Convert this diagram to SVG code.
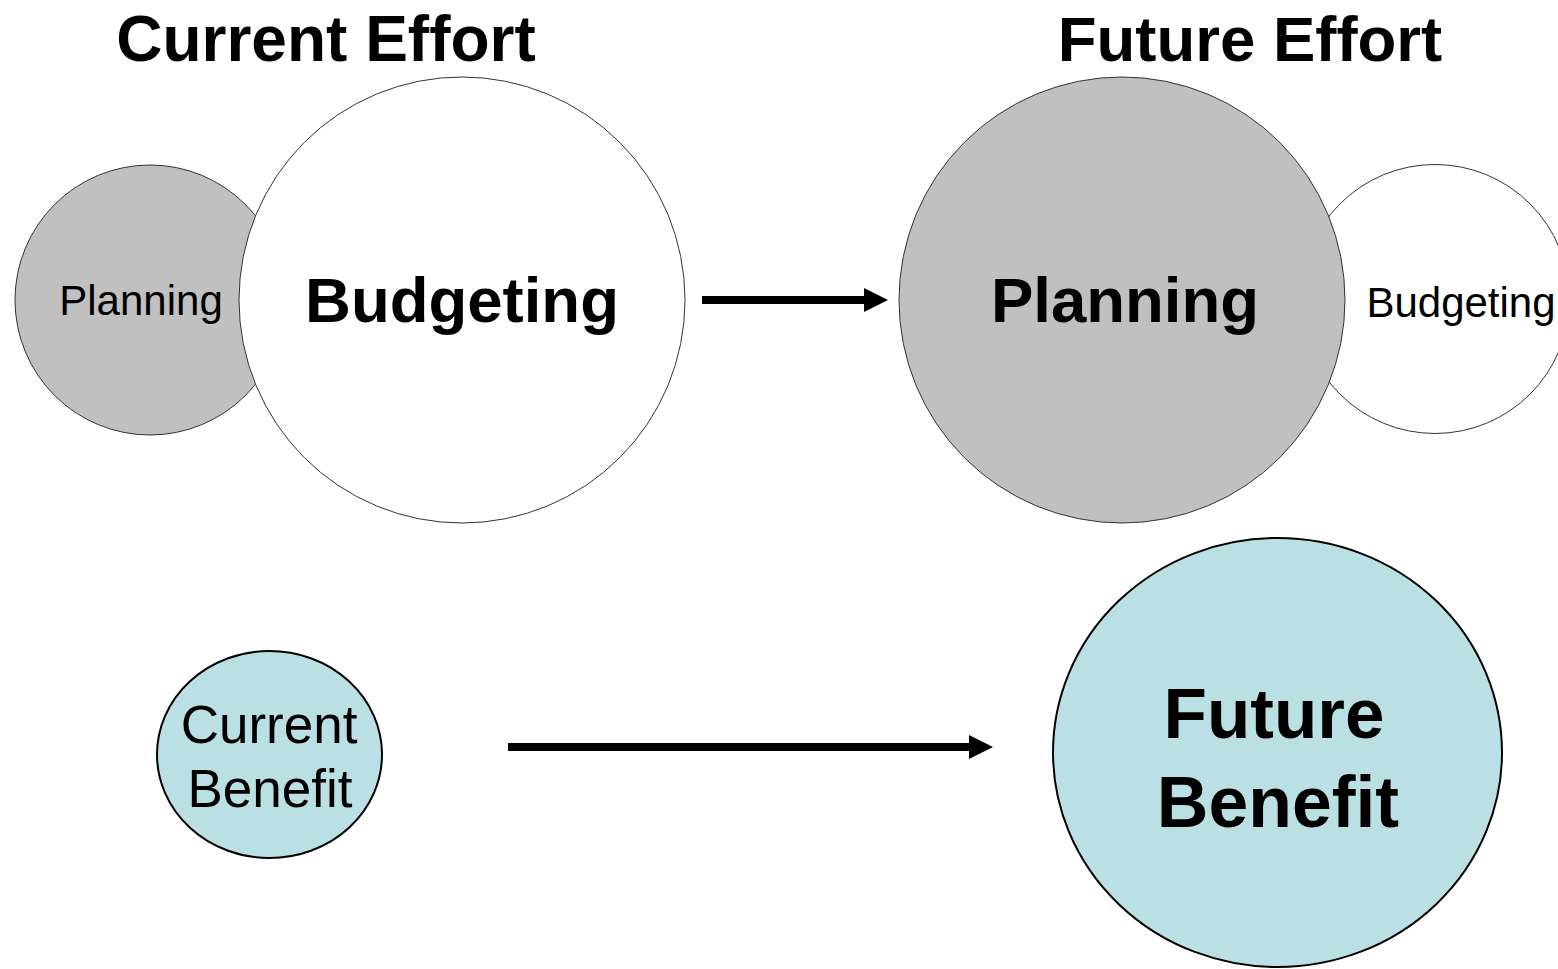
<svg xmlns="http://www.w3.org/2000/svg" width="1558" height="969" viewBox="0 0 1558 969">
<defs>
<style>
.grey{fill:#C0C0C0;stroke:#333;stroke-width:1}
.white{fill:#FFFFFF;stroke:#333;stroke-width:1}
.blue{fill:#BAE0E4;stroke:#000;stroke-width:2}
text{font-family:"Liberation Sans",Arial,sans-serif;fill:#000;text-anchor:middle}
.b{font-weight:bold}
.conn{stroke:#000;stroke-width:8;fill:none}
</style>
<marker id="ah" markerWidth="24" markerHeight="24" refX="0" refY="12" orient="auto" markerUnits="userSpaceOnUse">
<path d="M0,0 L24,12 L0,24 Z" fill="#000"/>
</marker>
</defs>
<rect width="1558" height="969" fill="#FFFFFF"/>
<text class="b" x="326" y="61" font-size="64">Current Effort</text>
<text class="b" x="1250" y="61" font-size="63.5">Future Effort</text>
<g id="current-planning">
<circle class="grey" cx="150" cy="300" r="135"/>
<text x="141" y="315" font-size="42">Planning</text>
</g>
<g id="current-budgeting">
<circle class="white" cx="462" cy="300" r="223"/>
<text class="b" x="462" y="322" font-size="63.5">Budgeting</text>
</g>
<g id="future-budgeting">
<circle class="white" cx="1435" cy="299" r="134.5"/>
<text x="1461" y="317" font-size="42">Budgeting</text>
</g>
<g id="future-planning">
<circle class="grey" cx="1122" cy="300" r="223"/>
<text class="b" x="1125" y="322" font-size="63.5">Planning</text>
</g>
<g id="current-benefit">
<ellipse class="blue" cx="269.5" cy="754.5" rx="112.5" ry="103.5"/>
<text x="269" y="743" font-size="53">Current</text>
<text x="270" y="807" font-size="53">Benefit</text>
</g>
<g id="future-benefit">
<ellipse class="blue" cx="1277.5" cy="752.5" rx="224.5" ry="214.5"/>
<text class="b" x="1274" y="738" font-size="71">Future</text>
<text class="b" x="1278" y="827" font-size="71.5">Benefit</text>
</g>
<g id="connectors">
<line class="conn" x1="702" y1="300" x2="864" y2="300" marker-end="url(#ah)"/>
<line class="conn" x1="508" y1="747" x2="969" y2="747" marker-end="url(#ah)"/>
</g>
</svg>
